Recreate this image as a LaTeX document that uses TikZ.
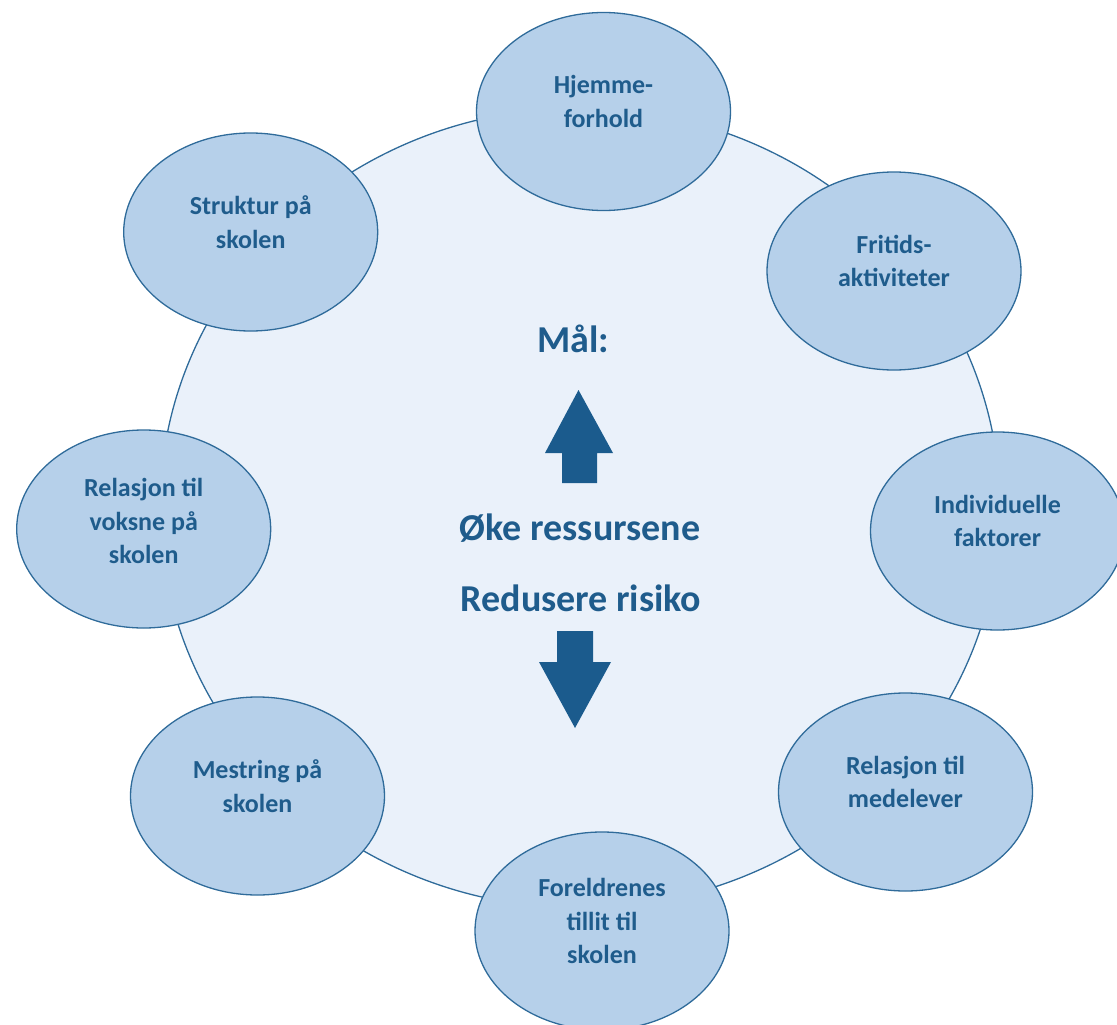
\documentclass[tikz,border=0pt]{standalone}
\usepackage{fontspec}
\setmainfont{Carlito}
\usetikzlibrary{shapes.geometric}
\definecolor{txt}{HTML}{1F5C8C}
\definecolor{edge}{HTML}{2F6B9A}
\definecolor{satfill}{HTML}{B6D0EA}
\definecolor{bigfill}{HTML}{EAF1FA}
\definecolor{arrowc}{HTML}{1B5B8D}
\begin{document}
\begin{tikzpicture}[x=1pt,y=-1pt,
  bigell/.style={ellipse, draw=edge, line width=1.3pt, fill=bigfill, minimum width=840pt, minimum height=800pt, inner sep=0pt},
  sat/.style={ellipse, draw=edge, line width=1.3pt, fill=satfill, minimum width=254pt, minimum height=198pt, inner sep=0pt},
  lab/.style={text=txt, font=\fontsize{26}{33.5}\selectfont\bfseries, align=center, inner sep=0pt},
  bigtxt/.style={text=txt, font=\fontsize{38}{44}\selectfont\bfseries, inner sep=0pt, anchor=base},
  arr/.style={fill=arrowc, draw=none}]
\useasboundingbox (0,0) rectangle (1117,1025);
\node[bigell] (c) at (580,508) {};
\node[sat] (n1) at (603.5,111.5) {};
\node[sat] (n2) at (894,271) {};
\node[sat] (n3) at (997.5,531) {};
\node[sat] (n4) at (905.5,792) {};
\node[sat] (n5) at (602,931) {};
\node[sat] (n6) at (257.5,796) {};
\node[sat] (n7) at (143.7,529) {};
\node[sat] (n8) at (250.7,232) {};
\node[lab] (t1) at ([yshift=10pt]n1.center) {Hjemme-\\forhold};
\node[lab] (t2) at ([yshift=10pt]n2.center) {Fritids-\\aktiviteter};
\node[lab] (t3) at ([yshift=10pt]n3.center) {Individuelle\\faktorer};
\node[lab] (t4) at ([yshift=10pt]n4.center) {Relasjon til\\medelever};
\node[lab] (t5) at ([yshift=10pt]n5.center) {Foreldrenes\\tillit til\\skolen};
\node[lab] (t6) at ([yshift=10pt]n6.center) {Mestring på\\skolen};
\node[lab] (t7) at ([yshift=8pt]n7.center) {Relasjon til\\voksne på\\skolen};
\node[lab] (t8) at ([yshift=10pt]n8.center) {Struktur på\\skolen};
\node[bigtxt] (mal) at (573,352) {Mål:};
\node[bigtxt] (oke) at (580,540) {Øke ressursene};
\node[bigtxt] (red) at (581,611.7) {Redusere risiko};
\fill[arr] (578.5,390) -- (613,453) -- (597,453) -- (597,483) -- (562,483) -- (562,453) -- (545,453) -- cycle;
\fill[arr] (557,631) -- (593,631) -- (593,662) -- (611,662) -- (575,728) -- (539,662) -- (557,662) -- cycle;
\end{tikzpicture}
\end{document}
